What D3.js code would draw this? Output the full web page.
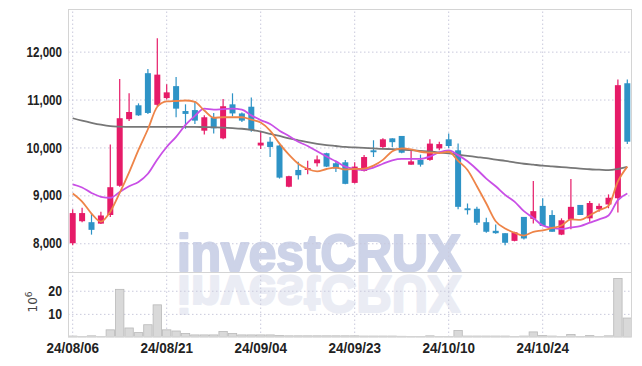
<!DOCTYPE html>
<html>
<head>
<meta charset="UTF-8">
<title>investCRUX candles</title>
<script src="https://d3js.org/d3.v7.min.js"></script>
<style>
    body { margin: 0; background: #ffffff; }
    .lbl { font-family: "Liberation Sans", Arial, sans-serif; font-weight: bold; fill: #222; }
</style>
</head>
<body>
<svg width="642" height="366" id="mainsvg"></svg>
<script>
    // trading days (yy/mm/dd)
    const dates = ['24/08/06','24/08/07','24/08/08','24/08/09','24/08/12','24/08/13','24/08/14','24/08/16','24/08/19','24/08/20',
        '24/08/21','24/08/22','24/08/23','24/08/26','24/08/27','24/08/28','24/08/29','24/08/30','24/09/02','24/09/03',
        '24/09/04','24/09/05','24/09/06','24/09/09','24/09/10','24/09/11','24/09/12','24/09/13','24/09/19','24/09/20',
        '24/09/23','24/09/24','24/09/25','24/09/26','24/09/27','24/09/30','24/10/02','24/10/04','24/10/07','24/10/08',
        '24/10/10','24/10/11','24/10/14','24/10/15','24/10/16','24/10/17','24/10/18','24/10/21','24/10/22','24/10/23',
        '24/10/24','24/10/25','24/10/28','24/10/29','24/10/30','24/10/31','24/11/01','24/11/04','24/11/05','24/11/06'];
    const open  = [8000,8460,8440,8410,8590,9200,10590,10880,11550,10890, 11030,11280,10760,10780,10350,10630,10190,10900,10710,10850,
        10040,10120,10040,9180,9530,9530,9670,9880,9670,9690, 9260,9510,9940,10010,10190,10240,9640,9740,9740,9980,
        10170,9940,8730,8720,8440,8260,8210,8050,8550,8510, 8780,8590,8180,8490,8800,8520,8710,8810,8940,11340];
    const high  = [8710,8740,8620,8660,10060,11430,11130,10920,11640,12280, 11320,11470,10900,10970,10670,10720,11010,11130,10730,11040,
        10350,10220,10050,9410,9700,9720,9830,9890,9720,9740, 9690,9840,10150,10190,10190,10240,9960,9850,10170,10120,
        10290,10080,8830,8760,8530,8390,8210,8240,8550,9300, 8940,8690,8520,9340,8800,8880,8830,9020,11420,11420];
    const low   = [7960,8440,8180,8400,8550,9180,10550,10660,10700,10860, 11000,10630,10390,10490,10270,10290,10170,10650,10530,10330,
        9970,9800,9350,9170,9330,9440,9600,9590,9490,9230, 9250,9500,9800,9960,10010,9880,9640,9600,9720,9940,
        9990,8710,8600,8380,8220,8200,7960,8040,8080,8410, 8360,8240,8170,8290,8590,8450,8660,8730,8640,10070];
    const close = [8630,8630,8280,8580,9170,10610,10740,10670,10720,11520, 11150,10810,10700,10560,10630,10400,10860,10710,10560,10360,
        10100,10010,9370,9400,9420,9570,9750,9600,9560,9240, 9600,9800,9900,10170,10110,9890,9710,9640,10080,10070,
        10030,8760,8690,8430,8240,8210,8010,8230,8100,8670, 8360,8240,8480,8760,8590,8840,8780,8950,11300,10120];
    // volume in millions (10^6)
    const volume = [0.4,0.1,0.5,0.1,3.1,20.6,3.9,1.9,5.3,13.9, 3.1,2.6,1.5,0.9,0.9,0.9,2.4,1.5,0.9,0.9,
        0.9,0.9,0.6,0.5,0.5,0.5,0.5,0.5,0.5,0.5, 0.5,0.4,0.4,0.4,0.4,0.3,0.1,0.1,0.5,0.1,
        0.1,2.8,0.4,0.4,0.4,0.4,0.4,0.1,0.4,2.2, 0.6,0.4,0.1,1.1,0.1,0.6,0.1,0.5,25.3,8.2];
    // moving averages
    const ma5  = [9040,8870,8620,8450,8660,9050,9480,9950,10380,10850, 10960,10970,10980,10950,10770,10620,10630,10630,10630,10580,
        10520,10350,10080,9850,9660,9550,9500,9550,9580,9540, 9550,9560,9620,9740,9920,9980,9960,9910,9890,9880,
        9910,9720,9530,9190,8830,8460,8310,8220,8160,8240, 8270,8320,8370,8500,8490,8580,8690,8780,9290,9600];
    const ma10 = [9230,9165,9050,8970,8950,9070,9190,9280,9450,9750, 10010,10220,10470,10660,10810,10790,10800,10810,10790,10670,
        10570,10490,10350,10240,10120,10030,9920,9810,9710,9600, 9550,9530,9580,9660,9730,9760,9760,9760,9810,9900,
        9940,9840,9710,9540,9350,9190,9010,8870,8670,8530, 8370,8320,8300,8330,8360,8430,8500,8580,8900,9040];
    const ma60 = [10610,10560,10515,10475,10445,10435,10430,10430,10430,10430, 10430,10430,10430,10430,10425,10420,10415,10405,10390,10365,
        10330,10285,10240,10190,10150,10110,10075,10050,10030,10010, 10000,9990,9980,9970,9965,9955,9945,9930,9915,9895,
        9875,9850,9825,9800,9775,9745,9720,9690,9660,9640, 9620,9605,9590,9575,9560,9545,9535,9525,9550,9595];
    const priceTicks = [8000, 9000, 10000, 11000, 12000];
    const volTicks = [10, 20];
    const dateTicks = [0, 10, 20, 30, 40, 50];

    const svg = d3.select('#mainsvg');
    const frame = {left: 68, right: 632, top: 9, mid: 272, bottom: 337};
    const upColor = '#e61b68', downColor = '#2e93c6';

    const xScale = d3.scaleBand().domain(d3.range(dates.length)).range([frame.left, frame.right]).padding(0);
    const yScale = d3.scaleLinear().domain([7400, 12890]).range([frame.mid, frame.top]);
    const vScale = d3.scaleLinear().domain([0, 28.1]).range([frame.bottom, frame.mid]);
    const bw = xScale.bandwidth();
    const cx = i => xScale(i) + bw / 2;
    const plotW = frame.right - frame.left;

    svg.append('defs').append('clipPath').attr('id', 'volClip')
        .append('rect').attr('x', frame.left).attr('y', frame.mid + 1)
        .attr('width', plotW).attr('height', frame.bottom - frame.mid - 1);

    // watermark and its reflection
    const wmText = (g, fill) => g.append('text')
        .attr('x', 319).attr('y', 271)
        .attr('text-anchor', 'middle')
        .attr('textLength', 284).attr('lengthAdjust', 'spacingAndGlyphs')
        .style('font-family', '"Liberation Sans", Arial, sans-serif').style('font-weight', 'bold').style('font-size', '51px')
        .attr('fill', fill).attr('stroke', fill).attr('stroke-width', 2.2).attr('stroke-linejoin', 'round')
        .text('investCRUX');
    const wm = svg.append('g').attr('id', 'watermark');
    wmText(wm, '#cdd3e8');
    wmText(wm.append('g').attr('clip-path', 'url(#volClip)')
        .append('g').attr('transform', `translate(0, ${2 * frame.mid + 3}) scale(1, -1)`), '#eaecf4');

    // grid + axes
    const gridStyle = sel => sel.selectAll('.tick line')
        .attr('stroke', '#c9c9dc').attr('stroke-dasharray', '1.5,2.5');

    const yAxis = d3.axisLeft(yScale).tickValues(priceTicks).tickSize(-plotW).tickPadding(6)
        .tickFormat(d3.format(','));
    const yg = svg.append('g').attr('transform', `translate(${frame.left},0)`).call(yAxis);
    yg.select('.domain').remove();
    gridStyle(yg);

    const vAxis = d3.axisLeft(vScale).tickValues(volTicks).tickSize(-plotW).tickPadding(6);
    const vg = svg.append('g').attr('transform', `translate(${frame.left},0)`).call(vAxis);
    vg.select('.domain').remove();
    gridStyle(vg);

    const xAxis = d3.axisBottom(xScale).tickValues(dateTicks).tickSize(-(frame.bottom - frame.top)).tickPadding(6)
        .tickFormat(i => dates[i]);
    const xg = svg.append('g').attr('transform', `translate(0,${frame.bottom})`).call(xAxis);
    xg.select('.domain').remove();
    gridStyle(xg);

    // narrow bold labels: squeeze the glyphs a bit
    const squeeze = (sel, k) => sel.each(function () {
        d3.select(this).attr('textLength', this.getComputedTextLength() * k).attr('lengthAdjust', 'spacingAndGlyphs');
    });
    svg.selectAll('.tick text').attr('class', 'lbl').style('font-size', '14.5px').attr('font-family', null);
    squeeze(yg.selectAll('.tick text'), 0.8);
    squeeze(vg.selectAll('.tick text'), 0.85);
    squeeze(xg.selectAll('.tick text'), 0.93);

    // volume unit label
    svg.append('text')
        .attr('transform', 'translate(37,302) rotate(-90)')
        .attr('text-anchor', 'middle')
        .style('font-family', '"DejaVu Sans", sans-serif').style('font-size', '12px')
        .attr('fill', '#444')
        .text('10')
        .append('tspan').attr('dy', -5).style('font-size', '9px').text('6');

    // volume bars
    svg.append('g').selectAll('rect').data(volume).join('rect')
        .attr('x', (d, i) => xScale(i) + 0.5)
        .attr('y', d => vScale(d))
        .attr('width', bw - 1)
        .attr('height', d => frame.bottom - vScale(d))
        .attr('fill', '#d9d9d9')
        .attr('stroke', '#b9b9b9')
        .attr('stroke-width', 0.8);

    // candles
    const candles = svg.append('g').selectAll('g').data(dates).join('g');
    const colorOf = i => close[i] >= open[i] ? upColor : downColor;
    candles.append('line')
        .attr('x1', (d, i) => cx(i)).attr('x2', (d, i) => cx(i))
        .attr('y1', (d, i) => yScale(high[i])).attr('y2', (d, i) => yScale(low[i]))
        .attr('stroke', (d, i) => colorOf(i)).attr('stroke-width', 1.2);
    candles.append('rect')
        .attr('x', (d, i) => cx(i) - 3)
        .attr('width', 6)
        .attr('y', (d, i) => yScale(Math.max(open[i], close[i])))
        .attr('height', (d, i) => Math.max(1.5, Math.abs(yScale(open[i]) - yScale(close[i]))))
        .attr('fill', (d, i) => colorOf(i));

    // moving averages
    const line = d3.line().curve(d3.curveMonotoneX)
        .x((d, i) => cx(i)).y(d => yScale(d));
    [[ma60, '#777777'], [ma10, '#c94fe6'], [ma5, '#ee8448']].forEach(([s, c]) => {
        svg.append('path').datum(s)
            .attr('d', line)
            .attr('fill', 'none')
            .attr('stroke', c)
            .attr('stroke-width', 1.8);
    });

    // frame
    svg.append('rect').attr('x', frame.left + 0.5).attr('y', frame.top + 0.5)
        .attr('width', plotW - 1).attr('height', frame.bottom - frame.top - 1)
        .attr('fill', 'none').attr('stroke', '#d4d4d4');
    svg.append('line').attr('x1', frame.left).attr('x2', frame.right)
        .attr('y1', frame.mid + 0.5).attr('y2', frame.mid + 0.5)
        .attr('stroke', '#d4d4d4');
</script>
</body>
</html>
